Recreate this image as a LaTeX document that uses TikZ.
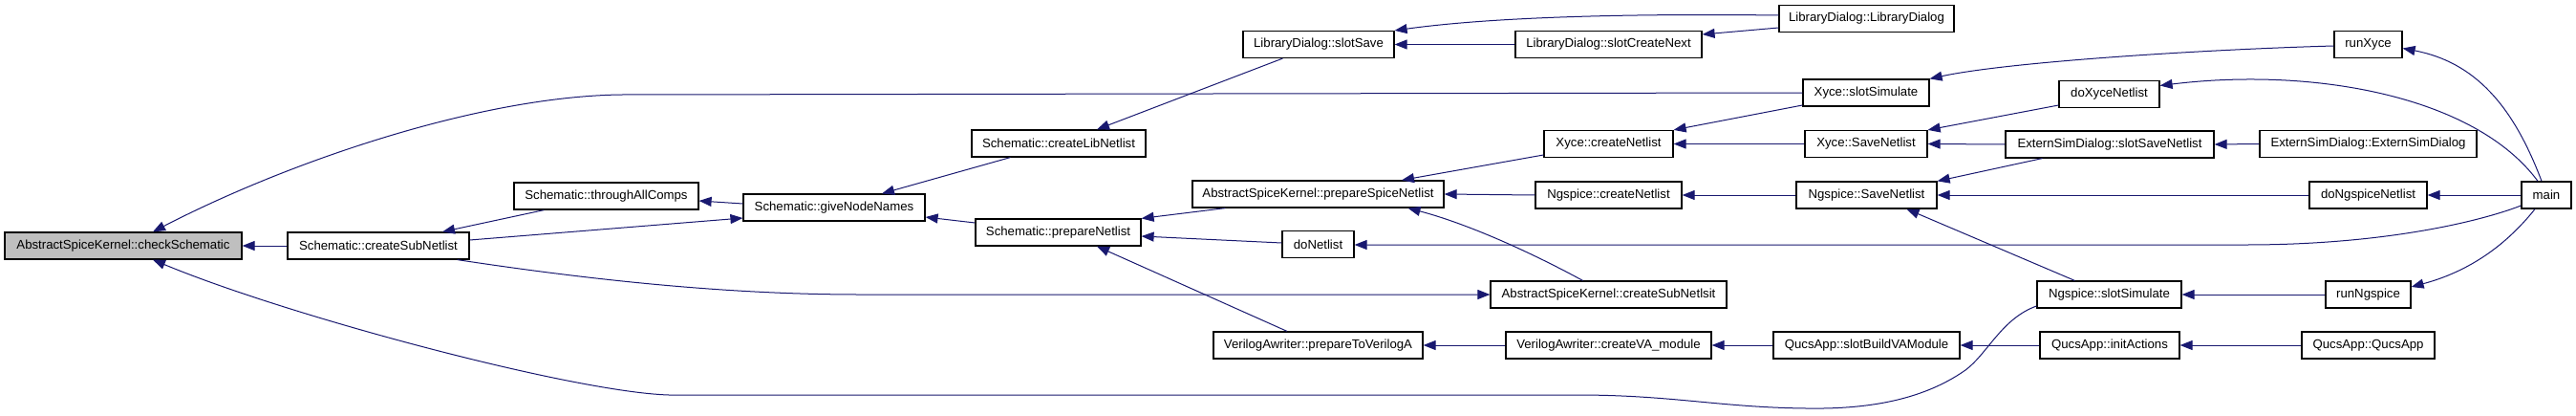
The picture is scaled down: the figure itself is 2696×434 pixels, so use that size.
\documentclass[tikz,border=0pt]{standalone}
\usepackage{fontspec}
\setmainfont{Liberation Sans}
\usetikzlibrary{arrows.meta}
\definecolor{edgecol}{HTML}{191970}
\definecolor{hlfill}{HTML}{BFBFBF}
\tikzset{
  fnbox/.style={draw=black, line width=1.2pt, fill=white, inner sep=0pt, minimum height=28pt,
    font=\fontsize{13.2}{15}\selectfont, text=black, anchor=center},
  call/.style={draw=edgecol, line width=1pt, -{Triangle[length=13pt,width=10pt]}},
}
\begin{document}
\begin{tikzpicture}[x=1pt,y=-1pt]
\useasboundingbox[fill=white] (0,0) rectangle (2696,434);
% nodes
\node[fnbox, fill=hlfill, minimum width=248pt] (cs) at (129,257) {AbstractSpiceKernel::checkSchematic};
\node[fnbox, minimum width=190pt] (csn) at (396,257) {Schematic::createSubNetlist};
\node[fnbox, minimum width=193pt] (tac) at (634.5,205) {Schematic::throughAllComps};
\node[fnbox, minimum width=190pt] (gnn) at (873,217) {Schematic::giveNodeNames};
\node[fnbox, minimum width=182pt] (cln) at (1108,150) {Schematic::createLibNetlist};
\node[fnbox, minimum width=173pt] (pn) at (1107.5,243) {Schematic::prepareNetlist};
\node[fnbox, minimum width=158pt] (ss) at (1380,46.5) {LibraryDialog::slotSave};
\node[fnbox, minimum width=263pt] (psn) at (1379.5,203) {AbstractSpiceKernel::prepareSpiceNetlist};
\node[fnbox, minimum width=75pt] (dn) at (1379.5,255.5) {doNetlist};
\node[fnbox, minimum width=219pt] (ptv) at (1379.5,361) {VerilogAwriter::prepareToVerilogA};
\node[fnbox, minimum width=195pt] (scn) at (1683.5,46.5) {LibraryDialog::slotCreateNext};
\node[fnbox, minimum width=135pt] (xcn) at (1683.5,150.5) {Xyce::createNetlist};
\node[fnbox, minimum width=153pt] (ncn) at (1683.5,204) {Ngspice::createNetlist};
\node[fnbox, minimum width=247pt] (csnk) at (1683.5,308) {AbstractSpiceKernel::createSubNetlsit};
\node[fnbox, minimum width=215pt] (cva) at (1683.5,361) {VerilogAwriter::createVA\_module};
\node[fnbox, minimum width=183pt] (ld) at (1953.5,19.5) {LibraryDialog::LibraryDialog};
\node[fnbox, minimum width=132pt] (xss) at (1953,97) {Xyce::slotSimulate};
\node[fnbox, minimum width=128pt] (xsn) at (1953,150.5) {Xyce::SaveNetlist};
\node[fnbox, minimum width=147pt] (nsn) at (1953.5,204) {Ngspice::SaveNetlist};
\node[fnbox, minimum width=195pt] (sbva) at (1953.5,361) {QucsApp::slotBuildVAModule};
\node[fnbox, minimum width=105pt] (dxn) at (2207.5,98.5) {doXyceNetlist};
\node[fnbox, minimum width=218pt] (essn) at (2208,151) {ExternSimDialog::slotSaveNetlist};
\node[fnbox, minimum width=151pt] (nss) at (2207.5,308) {Ngspice::slotSimulate};
\node[fnbox, minimum width=146pt] (ia) at (2208,361) {QucsApp::initActions};
\node[fnbox, minimum width=71pt] (rx) at (2478.5,46.5) {runXyce};
\node[fnbox, minimum width=227pt] (esd) at (2478.5,150.5) {ExternSimDialog::ExternSimDialog};
\node[fnbox, minimum width=123pt] (dnn) at (2478.5,204) {doNgspiceNetlist};
\node[fnbox, minimum width=89pt] (rn) at (2478.5,308) {runNgspice};
\node[fnbox, minimum width=139pt] (qa) at (2478.5,361) {QucsApp::QucsApp};
\node[fnbox, minimum width=52pt] (main) at (2665,204) {main};
% edges
\draw[call] (csn.west) -- (cs.east);
\draw[call] (xss.west) -- (650,99) .. controls (500,101) and (300,170) .. ([xshift=31pt]cs.north);
\draw[call] ([yshift=-12pt]nss.west) .. controls (2095,333) and (2080,370) .. (2057,387)
  .. controls (2010,420) and (1950,428) .. (1890,427)
  .. controls (1800,426) and (1750,413) .. (1650,413) -- (700,413)
  .. controls (600,410) and (300,330) .. ([xshift=31pt]cs.south);
\draw[call] ([xshift=32pt]tac.south west) -- ([xshift=67pt]csn.north);
\draw[call] ([yshift=6pt]csn.east) -- ([yshift=-11pt]gnn.west);
\draw[call] ([xshift=-13pt]csn.south east) .. controls (600,290) and (750,308) .. (900,308) -- (csnk.west);
\draw[call] ([yshift=4pt]gnn.west) -- ([yshift=-5pt]tac.east);
\draw[call] ([xshift=41pt]cln.south west) -- ([xshift=50pt]gnn.north);
\draw[call] ([yshift=10pt]pn.west) -- ([yshift=-10pt]gnn.east);
\draw[call] ([xshift=42pt]ss.south west) -- ([xshift=40pt]cln.north);
\draw[call] (scn.west) -- (ss.east);
\draw[call] ([yshift=3.5pt]ld.west) .. controls (1700,14) and (1560,18) .. (ss.north east);
\draw[call] ([yshift=-9.5pt]ld.west) -- ([yshift=10.5pt]scn.east);
\draw[call] ([xshift=35pt]psn.south west) -- (pn.north east);
\draw[call] ([yshift=1.5pt]dn.west) -- ([yshift=-4pt]pn.east);
\draw[call] ([xshift=-32.5pt]ptv.north) -- ([xshift=40.5pt]pn.south);
\draw[call] ([yshift=-11.5pt]xcn.west) -- ([xshift=87.5pt]psn.north);
\draw[call] (ncn.west) -- (psn.east);
\draw[call] ([xshift=-27pt]csnk.north) .. controls (1610,268) and (1540,235) .. ([xshift=94pt]psn.south);
\draw[call] ([yshift=-11pt]main.west) .. controls (2600,230) and (2500,256) .. (2350,256) -- ([yshift=-0.5pt]dn.east);
\draw[call] ([yshift=-13pt]xss.west) -- (xcn.north east);
\draw[call] (xsn.west) -- (xcn.east);
\draw[call] (nsn.west) -- (ncn.east);
\draw[call] ([yshift=-1.5pt]rx.west) .. controls (2300,52) and (2100,65) .. (xss.north east);
\draw[call] ([yshift=-11.5pt]dxn.west) -- (xsn.north east);
\draw[call] (essn.west) -- (xsn.east);
\draw[call] ([xshift=39pt]essn.south west) -- (nsn.north east);
\draw[call] (dnn.west) -- (nsn.east);
\draw[call] ([xshift=40pt]nss.north west) -- ([xshift=42pt]nsn.south);
\draw[call] (sbva.west) -- (cva.east);
\draw[call] (cva.west) -- (ptv.east);
\draw[call] (ia.west) -- (sbva.east);
\draw[call] (qa.west) -- (ia.east);
\draw[call] (rn.west) -- (nss.east);
\draw[call] ([xshift=-5pt]main.north) .. controls (2630,110) and (2590,65) .. ([yshift=-4pt]rx.east);
\draw[call] ([xshift=-9pt]main.north) .. controls (2590,100) and (2420,70) .. ([yshift=9pt]dxn.east);
\draw[call] (esd.west) -- (essn.east);
\draw[call] (main.west) -- (dnn.east);
\draw[call] ([xshift=-12pt]main.south) .. controls (2620,260) and (2580,285) .. ([yshift=8pt]rn.east);
\end{tikzpicture}
\end{document}
